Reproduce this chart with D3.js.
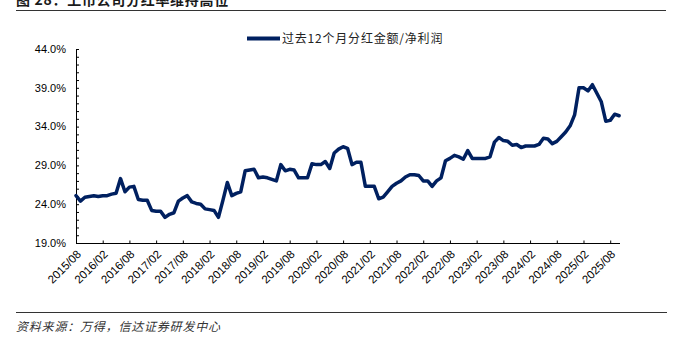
<!DOCTYPE html>
<html><head><meta charset="utf-8">
<script src="https://cdn.jsdelivr.net/npm/d3@7"></script>
<style>
html,body{margin:0;padding:0;background:#fff;}
svg{display:block;}
</style></head>
<body>
<svg id="chart" width="677" height="341"></svg>
<script>
// ---- data ----
const title = "图 28：上市公司分红率维持高位";
const seriesName = "过去12个月分红金额/净利润";
const source = "资料来源：万得，信达证券研发中心";
// monthly values (%), 2015/08 .. 2025/10
const values = [
  25.1, 24.4, 24.9, 25.0, 25.1, 25.0, 25.1, 25.1, 25.3, 25.4,
  27.3, 25.6, 26.2, 26.3, 24.6, 24.5, 24.5, 23.2, 23.1, 23.1,
  22.3, 22.7, 22.9, 24.4, 24.8, 25.1, 24.3, 24.1, 24.0, 23.4,
  23.3, 23.2, 22.3, 24.5, 26.8, 25.1, 25.4, 25.6, 28.3, 28.4,
  28.5, 27.4, 27.5, 27.4, 27.2, 27.0, 29.1, 28.3, 28.5, 28.4,
  27.4, 27.4, 27.4, 29.2, 29.1, 29.1, 29.5, 28.6, 30.6, 31.1,
  31.4, 31.2, 29.1, 29.4, 29.4, 26.3, 26.3, 26.3, 24.7, 24.9,
  25.6, 26.3, 26.7, 27.0, 27.5, 27.8, 27.8, 27.7, 27.0, 27.0,
  26.3, 27.0, 27.4, 29.6, 29.9, 30.3, 30.1, 29.8, 30.9, 29.9,
  29.9, 29.9, 29.9, 30.1, 32.0, 32.6, 32.2, 32.1, 31.6, 31.7,
  31.3, 31.5, 31.5, 31.5, 31.7, 32.5, 32.4, 31.8, 32.1, 32.7,
  33.3, 34.1, 35.5, 39.0, 39.0, 38.6, 39.4, 38.3, 37.2, 34.7,
  34.8, 35.6, 35.4
];
const yTicks = [19, 24, 29, 34, 39, 44];
const xTickLabels = ["2015/08","2016/02","2016/08","2017/02","2017/08","2018/02","2018/08",
  "2019/02","2019/08","2020/02","2020/08","2021/02","2021/08","2022/02","2022/08",
  "2023/02","2023/08","2024/02","2024/08","2025/02","2025/08"];

// ---- layout ----
const svg = d3.select("#chart");
const pLeft = 76, pRight = 620, pTop = 49, pBottom = 243;
const color = "#002060";

const x = d3.scaleLinear().domain([0, 122.2]).range([pLeft, pRight]);
const y = d3.scaleLinear().domain([19, 44]).range([pBottom, pTop]);

// title + rules
svg.append("text").attr("x", 16).attr("y", 5)
  .attr("font-family", "'Noto Sans CJK SC', sans-serif").attr("font-size", 14)
  .attr("letter-spacing", 0.7)
  .attr("font-weight", "bold").attr("fill", "#1a1a1a").text(title);
svg.append("line").attr("x1", 16).attr("x2", 666).attr("y1", 10.5).attr("y2", 10.5)
  .attr("stroke", "#333").attr("stroke-width", 1);
svg.append("line").attr("x1", 16).attr("x2", 667).attr("y1", 312.5).attr("y2", 312.5)
  .attr("stroke", "#333").attr("stroke-width", 1);
svg.append("text").attr("x", 16).attr("y", 331)
  .attr("font-family", "'Noto Sans CJK SC', sans-serif").attr("font-size", 12)
  .attr("letter-spacing", 0.8)
  .attr("font-style", "italic").attr("fill", "#333").text(source);

// y axis
const yAxis = d3.axisRight(y).tickValues(d3.range(19, 44.5, 1)).tickSize(3).tickFormat("");
const gy = svg.append("g").attr("transform", `translate(${pLeft},0)`).call(yAxis);
gy.select(".domain").attr("stroke", "#000").attr("d", `M0.5,${pTop}V${pBottom}`);
gy.selectAll(".tick line").attr("stroke", "#000");
svg.append("g").selectAll("text").data(yTicks).join("text")
  .attr("x", 66).attr("y", d => y(d)).attr("dy", "0.35em")
  .attr("text-anchor", "end").attr("font-family", "'Liberation Sans', Arial, sans-serif")
  .attr("font-size", 11).attr("fill", "#000")
  .text(d => d.toFixed(1) + "%");

// x axis
const xTickVals = xTickLabels.map((d, i) => i * 6);
const xAxis = d3.axisTop(x).tickValues(xTickVals).tickSize(3).tickFormat("");
const gx = svg.append("g").attr("transform", `translate(0,${pBottom + 0.5})`).call(xAxis);
gx.select(".domain").attr("stroke", "#000").attr("d", `M${pLeft},0H${pRight}`);
gx.selectAll(".tick line").attr("stroke", "#000");
svg.append("g").selectAll("text").data(xTickLabels).join("text")
  .attr("transform", (d, i) => `translate(${x(i * 6) + 3},${pBottom + 9}) rotate(-45)`)
  .attr("text-anchor", "end").attr("dy", "0.35em")
  .attr("font-family", "'Liberation Sans', Arial, sans-serif")
  .attr("font-size", 11.5).attr("fill", "#000").text(d => d);

// line
const line = d3.line().x((d, i) => x(i)).y(d => y(d)).curve(d3.curveLinear);
svg.append("path").datum(values).attr("d", line)
  .attr("fill", "none").attr("stroke", color).attr("stroke-width", 3.5)
  .attr("stroke-linejoin", "round").attr("stroke-linecap", "round");

// legend
svg.append("line").attr("x1", 247).attr("x2", 280).attr("y1", 38.5).attr("y2", 38.5)
  .attr("stroke", color).attr("stroke-width", 4);
svg.append("text").attr("x", 282).attr("y", 38.5).attr("dy", "0.35em")
  .attr("font-family", "'Noto Sans CJK SC', sans-serif").attr("font-size", 12)
  .attr("letter-spacing", 0.8)
  .attr("fill", "#222").text(seriesName);
</script>
</body></html>
